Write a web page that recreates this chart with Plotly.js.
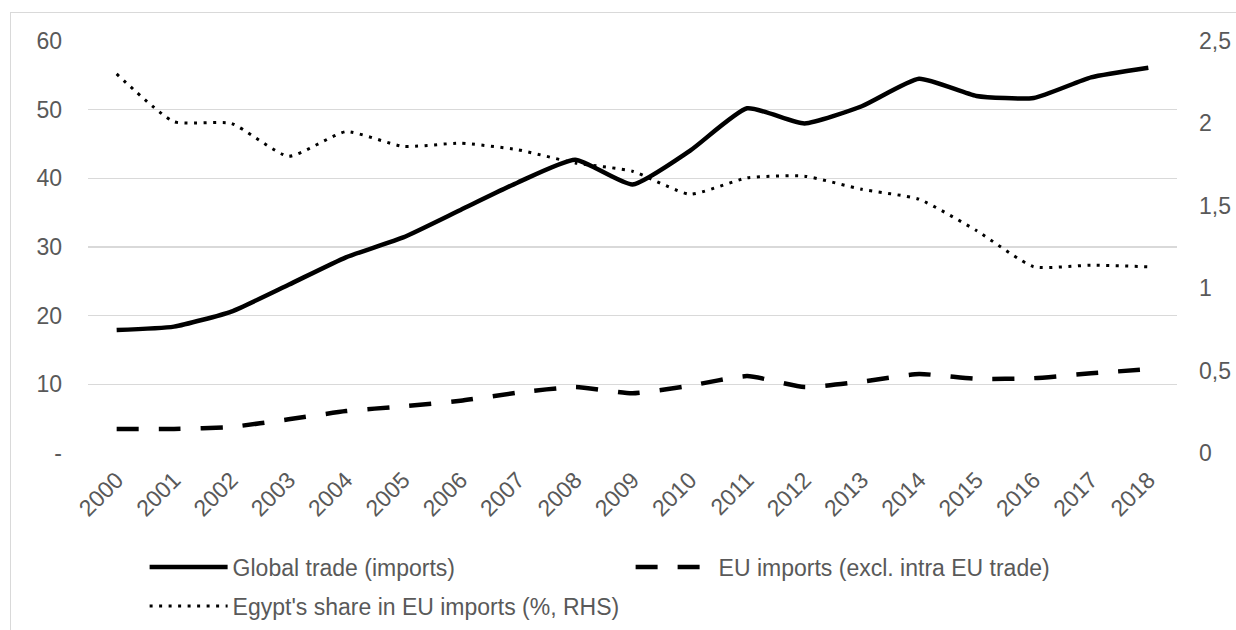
<!DOCTYPE html>
<html>
<head>
<meta charset="utf-8">
<script src="https://cdn.plot.ly/plotly-3.0.1.min.js"></script>
<style>
  html, body { margin: 0; padding: 0; background: #ffffff; }
  #frame { position: absolute; left: 10px; top: 12px; width: 1400px; height: 800px; border: 1.5px solid #d9d9d9; box-sizing: border-box; }
  #chart { position: absolute; left: 0; top: 0; width: 1236px; height: 630px; }
</style>
</head>
<body>
<div id="frame"></div>
<div id="chart"></div>
<script>
const years = ['2000','2001','2002','2003','2004','2005','2006','2007','2008','2009','2010','2011','2012','2013','2014','2015','2016','2017','2018'];
const globalTrade = [17.9, 18.4, 20.6, 24.5, 28.5, 31.4, 35.4, 39.4, 42.7, 39.1, 44.0, 50.2, 48.0, 50.5, 54.5, 52.0, 51.7, 54.7, 56.1];
const euImports = [3.5, 3.5, 3.8, 4.9, 6.1, 6.8, 7.6, 8.8, 9.6, 8.7, 9.8, 11.2, 9.6, 10.4, 11.5, 10.8, 10.9, 11.6, 12.2];
const egyptShare = [2.30, 2.01, 2.00, 1.80, 1.95, 1.86, 1.88, 1.84, 1.76, 1.71, 1.57, 1.67, 1.68, 1.60, 1.54, 1.35, 1.13, 1.14, 1.13];
const leftTickVals = [0, 10, 20, 30, 40, 50, 60];
const leftTickText = ['-', '10', '20', '30', '40', '50', '60'];
const rightTickVals = [0, 0.5, 1, 1.5, 2, 2.5];
const rightTickText = ['0', '0,5', '1', '1,5', '2', '2,5'];
const names = ['Global trade (imports)', 'EU imports (excl. intra EU trade)', "Egypt's share in EU imports (%, RHS)"];

const traces = [
  { x: years, y: globalTrade, name: names[0], type: 'scatter', mode: 'lines', yaxis: 'y', legend: 'legend',
    line: { color: '#000000', width: 4.5, shape: 'spline', smoothing: 0.5 } },
  { x: years, y: euImports, name: names[1], type: 'scatter', mode: 'lines', yaxis: 'y', legend: 'legend',
    line: { color: '#000000', width: 4.5, dash: '22px,20px', shape: 'spline', smoothing: 0.5 } },
  { x: years, y: egyptShare, name: names[2], type: 'scatter', mode: 'lines', yaxis: 'y2', legend: 'legend2',
    line: { color: '#000000', width: 3, dash: '3px,6.5px', shape: 'spline', smoothing: 0.5 } }
];

const FONT = 'Liberation Sans, Arial, sans-serif';
const tickFont = { family: FONT, size: 23, color: '#595959' };
const legendFont = { family: FONT, size: 23, color: '#595959' };

const layout = {
  width: 1236, height: 630,
  margin: { l: 88, r: 59, t: 41, b: 177, autoexpand: false },
  paper_bgcolor: 'rgba(0,0,0,0)',
  plot_bgcolor: 'rgba(0,0,0,0)',
  font: tickFont,
  showlegend: true,
  xaxis: {
    type: 'category', range: [-0.5, 18.5], tickangle: -45,
    showgrid: false, zeroline: false, showline: false, ticks: '',
    ticklabelstandoff: 8, tickfont: tickFont
  },
  yaxis: {
    range: [0, 60], tickvals: leftTickVals, ticktext: leftTickText,
    showgrid: true, gridcolor: '#d9d9d9', gridwidth: 1.5,
    zeroline: false, showline: false, ticks: '', ticklabelstandoff: 25,
    tickfont: tickFont
  },
  yaxis2: {
    range: [0, 2.5], tickvals: rightTickVals, ticktext: rightTickText,
    overlaying: 'y', side: 'right', showgrid: false, zeroline: false,
    showline: false, ticks: '', ticklabelstandoff: 21, tickfont: tickFont
  },
  legend: {
    orientation: 'h', xref: 'container', x: 0.117, xanchor: 'left',
    yref: 'container', y: 0.1, yanchor: 'middle',
    itemwidth: 78, entrywidth: 393,
    font: legendFont, bgcolor: 'rgba(0,0,0,0)'
  },
  legend2: {
    orientation: 'h', xref: 'container', x: 0.117, xanchor: 'left',
    yref: 'container', y: 0.038, yanchor: 'middle',
    itemwidth: 78,
    font: legendFont, bgcolor: 'rgba(0,0,0,0)'
  }
};

Plotly.newPlot('chart', traces, layout, { displayModeBar: false, staticPlot: true });
</script>
</body>
</html>
